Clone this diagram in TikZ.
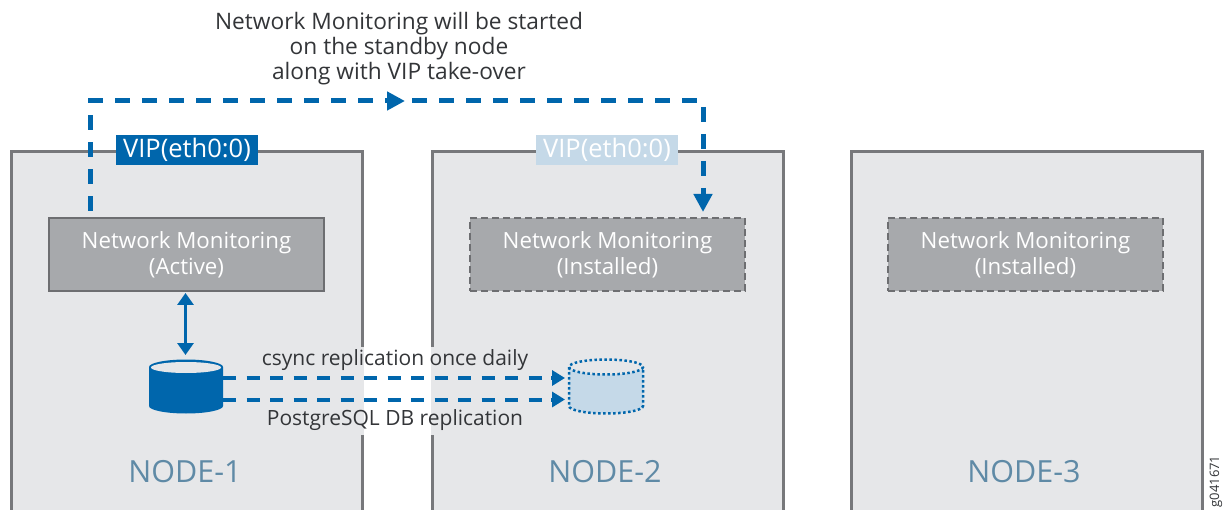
\documentclass[tikz,border=0pt]{standalone}
\usepackage{fontspec}
\setmainfont{Open Sans}
\usetikzlibrary{arrows.meta,calc}
\definecolor{jblue}{HTML}{0066AC}
\definecolor{jlight}{HTML}{C5D9E8}
\definecolor{boxfill}{HTML}{E6E7E9}
\definecolor{boxline}{HTML}{77787B}
\definecolor{innerfill}{HTML}{A7A9AC}
\definecolor{innerline}{HTML}{6D6E71}
\definecolor{nodetext}{HTML}{5F8AA6}
\definecolor{txt}{HTML}{333538}
\tikzset{
  x=1pt,y=-1pt,
  hostbox/.style={draw=boxline,fill=boxfill,line width=3pt,minimum width=351pt,minimum height=380pt,anchor=north west,inner sep=0pt},
  svc/.style={draw=innerline,fill=innerfill,line width=2.5pt,minimum width=275pt,minimum height=73pt,inner sep=0pt,text=white,align=center,font=\fontsize{22.3}{26}\selectfont},
  svcdash/.style={svc,dash pattern=on 7pt off 4pt},
  vip/.style={fill=jblue,text=white,minimum width=142pt,minimum height=30pt,inner sep=0pt,font=\fontsize{25.5}{26}\selectfont},
  vipghost/.style={vip,fill=jlight},
  flow/.style={draw=jblue,line width=5pt,dash pattern=on 15pt off 12pt},
  repl/.style={draw=jblue,line width=4pt,dash pattern=on 13pt off 10.5pt},
  solidtip/.style={-{Triangle[length=18pt,width=18pt]},draw=jblue,line width=5pt},
  repltip/.style={-{Triangle[length=13pt,width=15pt]},draw=jblue,line width=4pt},
  lbl/.style={text=txt,align=center,font=\fontsize{21}{25}\selectfont},
  titlelbl/.style={lbl,font=\fontsize{22.7}{25}\selectfont},
  hostname/.style={text=nodetext,font=\fontsize{30.5}{32}\selectfont},
  dbanchor/.style={minimum width=74pt,minimum height=54pt,inner sep=0pt},
}
\begin{document}
\begin{tikzpicture}
\useasboundingbox (0,0) rectangle (1225,510);
\clip (0,0) rectangle (1225,510);
% host boxes
\node[hostbox] (n1) at (10,150) {};
\node[hostbox] (n2) at (431,150) {};
\node[hostbox] (n3) at (850,150) {};
% gaps in the borders behind the labels
\fill[boxfill] (360.5,347) rectangle (364.2,435);
\fill[boxfill] (430.8,347) rectangle (434.5,435);
% services
\node[svc] (m1) at (186.5,254.5) {Network Monitoring\\(Active)};
\node[svcdash] (m2) at (607.5,254.5) {Network Monitoring\\(Installed)};
\node[svcdash] (m3) at (1025.5,254.5) {Network Monitoring\\(Installed)};
% takeover path
\coordinate (c1) at (90,101);
\coordinate (c2) at (703,101);
\coordinate (t1) at (90,211);
\coordinate (t2) at (703,212);
\draw[flow] (t1) -- (c1) -- (c2) -- (703,195);
\coordinate (mida) at (385,101);
\coordinate (midb) at (405,101);
\draw[solidtip] (mida) -- (midb);
\coordinate (enda) at (703,192);
\draw[solidtip] (enda) -- (t2);
% VIP labels
\node[vip] (v1) at (187,150) {VIP(eth0:0)};
\node[vipghost] (v2) at (607,150) {VIP(eth0:0)};
% databases
\node[dbanchor] (db1) at (186,387) {};
\node[dbanchor] (db2) at (606.5,387) {};
\fill[jblue] (149,367) arc[x radius=37,y radius=7.5,start angle=180,end angle=360] -- (223,406) arc[x radius=37,y radius=7.5,start angle=0,end angle=180] -- cycle;
\fill[boxfill] (186,367.5) ellipse[x radius=35,y radius=5.5];
\fill[jlight] (569,367) arc[x radius=37,y radius=7.5,start angle=180,end angle=360] -- (643,406) arc[x radius=37,y radius=7.5,start angle=0,end angle=180] -- cycle;
\fill[boxfill] (606,367) ellipse[x radius=37,y radius=7.5];
\draw[jblue,line width=2.5pt,dash pattern=on 2.5pt off 2.5pt] (569,367) -- (569,406) arc[x radius=37,y radius=7.5,start angle=180,end angle=0] -- (643,367);
\draw[jblue,line width=2.5pt,dash pattern=on 2.5pt off 2.5pt] (606,367) ellipse[x radius=37,y radius=7.5];
% db to monitoring
\coordinate (u1) at (185.5,293);
\coordinate (u2) at (185.5,355);
\draw[{Triangle[length=12pt,width=16pt]}-{Triangle[length=12pt,width=16pt]},draw=jblue,line width=3pt] (u1) -- (u2);
% replication
\coordinate (r1a) at (223,378);
\coordinate (r1b) at (551,378);
\coordinate (r1c) at (565,378);
\coordinate (r2a) at (223,399.5);
\coordinate (r2b) at (551,399.5);
\coordinate (r2c) at (565,399.5);
\draw[repl] (r1a) -- (r1b);
\draw[repl] (r2a) -- (r2b);
\draw[repltip] (r1b) -- (r1c);
\draw[repltip] (r2b) -- (r2c);
% labels
\node[titlelbl] (title) at (399,48.5) {Network Monitoring will be started\\on the standby node\\along with VIP take-over};
\node[lbl] (csync) at (395,360) {csync replication once daily};
\node[lbl] (pg) at (395,420) {PostgreSQL DB replication};
\node[hostname] (h1) at (185,472) {NODE-1};
\node[hostname] (h2) at (605,472) {NODE-2};
\node[hostname] (h3) at (1024,472) {NODE-3};
\node[rotate=90,text=txt,font=\fontsize{13}{15}\selectfont] (gid) at (1216,481.5) {g041671};
\end{tikzpicture}
\end{document}
